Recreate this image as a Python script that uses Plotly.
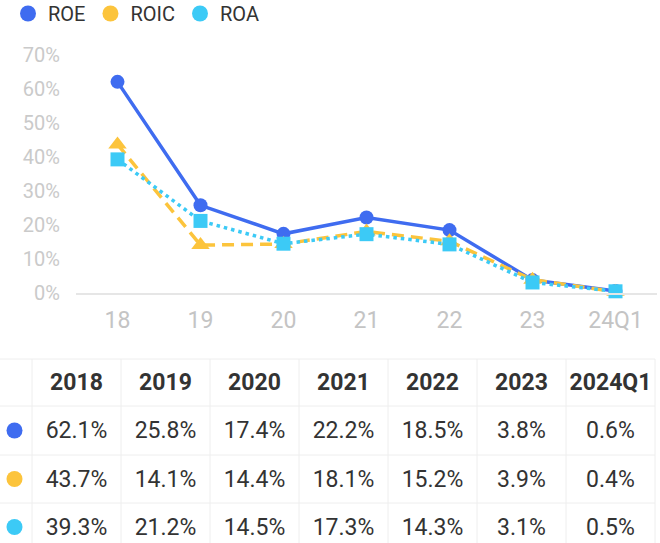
import plotly.graph_objects as go

# ---- data ----
categories = ["18", "19", "20", "21", "22", "23", "24Q1"]
table_headers = ["2018", "2019", "2020", "2021", "2022", "2023", "2024Q1"]
series_names = ["ROE", "ROIC", "ROA"]
roe = [62.1, 25.8, 17.4, 22.2, 18.5, 3.8, 0.6]
roic = [43.7, 14.1, 14.4, 18.1, 15.2, 3.9, 0.4]
roa = [39.3, 21.2, 14.5, 17.3, 14.3, 3.1, 0.5]
y_ticks = [0, 10, 20, 30, 40, 50, 60, 70]

# ---- styles ----
W, H = 660, 543
colors = ["#3f6cf0", "#fcc43c", "#3ccaf6"]
dashes = ["solid", "12px,7px", "3.5px,4px"]
symbols = ["circle", "triangle-up", "square"]
FONT = "Roboto"
values = [roe, roic, roa]

fig = go.Figure()

# line chart
for name, vals, c, d, s in zip(series_names, values, colors, dashes, symbols):
    fig.add_trace(go.Scatter(
        x=categories, y=vals, name=name, mode="lines+markers",
        line=dict(color=c, width=3.5, dash=d),
        marker=dict(color=c, size=14 if s != "triangle-up" else 16, symbol=s),
        cliponaxis=False, showlegend=False, xaxis="x", yaxis="y"))

# legend entries (circle markers only)
for name, c in zip(series_names, colors):
    fig.add_trace(go.Scatter(
        x=[None], y=[None], name=name, mode="markers",
        marker=dict(color=c, size=17, symbol="circle"),
        showlegend=True, xaxis="x", yaxis="y"))

# ---- table on pixel-like axes ----
col0_w = 32
col_w = 89
row_tops = [359, 406, 455, 503, 551]
col_edges = [col0_w + i * col_w for i in range(len(table_headers) + 1)]
col_centers = [(col_edges[i] + col_edges[i + 1]) / 2 for i in range(len(table_headers))]

fig.add_trace(go.Scatter(
    x=col_centers, y=[(row_tops[0] + row_tops[1]) / 2 + 2] * len(table_headers),
    text=["<b>%s</b>" % h for h in table_headers], mode="text",
    textfont=dict(family=FONT, size=23, color="#333333"),
    showlegend=False, hoverinfo="skip", xaxis="x2", yaxis="y2", cliponaxis=False))

for r, (vals, c) in enumerate(zip(values, colors)):
    yc = (row_tops[r + 1] + row_tops[r + 2]) / 2
    fig.add_trace(go.Scatter(
        x=col_centers, y=[yc + 2] * len(vals),
        text=["%.1f%%" % v for v in vals], mode="text",
        textfont=dict(family=FONT, size=23, color="#333333"),
        showlegend=False, hoverinfo="skip", xaxis="x2", yaxis="y2", cliponaxis=False))
    fig.add_trace(go.Scatter(
        x=[col0_w / 2 - 1.5], y=[yc], mode="markers",
        marker=dict(color=c, size=16, symbol="circle"),
        showlegend=False, hoverinfo="skip", xaxis="x2", yaxis="y2", cliponaxis=False))

shapes = []
line_col = "#eeeeee"
for yt in row_tops:
    shapes.append(dict(type="line", xref="x2", yref="y2", x0=0, x1=col_edges[-1],
                       y0=yt, y1=yt, line=dict(color=line_col, width=1), layer="below"))
for xe in col_edges:
    shapes.append(dict(type="line", xref="x2", yref="y2", x0=xe, x1=xe,
                       y0=row_tops[0], y1=H, line=dict(color=line_col, width=1), layer="below"))

# ---- layout ----
x_left, x_right = 76, 657
y_zero, y_top = 293, 55
fig.update_layout(
    width=W, height=H,
    margin=dict(l=0, r=0, t=0, b=0, autoexpand=False),
    paper_bgcolor="white", plot_bgcolor="rgba(0,0,0,0)",
    font=dict(family=FONT, color="#333333"),
    showlegend=True,
    legend=dict(orientation="h", x=8 / W, y=1 + 6 / H, xanchor="left", yanchor="top",
                font=dict(family=FONT, size=20, color="#333333"),
                itemwidth=30, tracegroupgap=0, bgcolor="rgba(0,0,0,0)"),
    xaxis=dict(domain=[x_left / W, x_right / W], type="category",
               range=[-0.5, len(categories) - 0.5],
               showgrid=False, zeroline=False, showline=True, linecolor="#e6e6e6",
               linewidth=1.5, ticks="", tickfont=dict(family=FONT, size=23, color="#c4c4c4"),
               ticklabelstandoff=6, fixedrange=True),
    yaxis=dict(domain=[(H - y_zero) / H, (H - y_top) / H], range=[0, 70],
               tickvals=y_ticks, ticktext=["%d%%" % t for t in y_ticks],
               showgrid=False, zeroline=False, showline=False, ticks="",
               tickfont=dict(family=FONT, size=20, color="#cacaca"),
               ticklabelstandoff=15, fixedrange=True),
    xaxis2=dict(domain=[0, 1], range=[0, W], visible=False, fixedrange=True),
    yaxis2=dict(domain=[0, 1], range=[H, 0], visible=False, fixedrange=True),
    shapes=shapes,
)

post = (
    "document.documentElement.style.margin='0';"
    "document.documentElement.style.overflow='hidden';"
    "document.body.style.margin='0';"
    "document.body.style.overflow='hidden';"
    "var gd=document.getElementById('{plot_id}');"
    "var p=gd.parentElement;p.style.height='543px';p.style.width='660px';"
    "p.style.overflow='hidden';p.style.fontSize='0';p.style.lineHeight='0';"
)
fig.write_html("out.html", config={"displayModeBar": False}, post_script=post)
